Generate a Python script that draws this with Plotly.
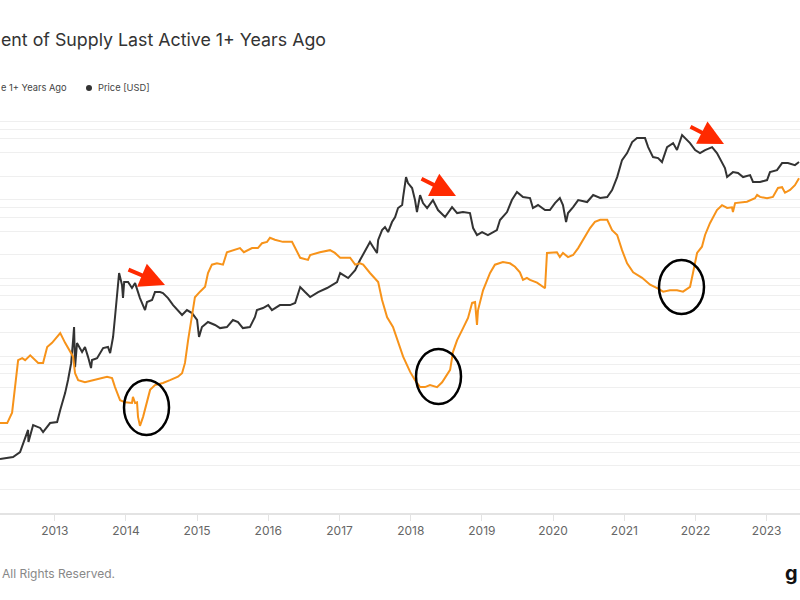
import plotly.graph_objects as go

# ---- data ----
price_dates = ["2012-03-26","2012-06-01","2012-07-07","2012-08-02","2012-08-17","2012-08-19","2012-09-12","2012-10-18","2012-11-02","2012-12-08",
"2013-01-13","2013-01-29","2013-02-23","2013-03-10","2013-03-26","2013-04-05","2013-04-10","2013-04-15","2013-04-25","2013-05-21","2013-06-05","2013-06-21","2013-07-06","2013-07-11","2013-08-06","2013-09-06","2013-10-01","2013-10-12","2013-10-27","2013-11-06","2013-11-17","2013-11-27","2013-12-12","2013-12-17","2013-12-23",
"2014-01-12","2014-02-01","2014-02-17","2014-03-14","2014-04-09","2014-04-19","2014-05-15","2014-05-30","2014-06-25","2014-07-10","2014-08-05","2014-08-31","2014-09-25","2014-10-16","2014-11-10","2014-12-06",
"2015-01-01","2015-01-11","2015-01-26","2015-02-26","2015-04-03","2015-04-29","2015-06-03","2015-07-04","2015-07-30","2015-08-24","2015-09-29","2015-10-25","2015-11-04","2015-12-05",
"2016-01-01","2016-01-20","2016-03-01","2016-04-22","2016-05-18","2016-06-13","2016-07-08","2016-08-03","2016-09-13","2016-10-29","2016-12-19",
"2017-01-04","2017-02-14","2017-03-22","2017-04-16","2017-05-22","2017-06-06","2017-06-22","2017-07-12","2017-07-18","2017-08-07","2017-08-22","2017-09-07","2017-09-27","2017-10-13","2017-10-28","2017-11-18","2017-11-23","2017-12-08","2017-12-18",
"2018-01-08","2018-01-23","2018-02-02","2018-02-18","2018-03-05","2018-03-26","2018-04-25","2018-05-21","2018-06-26","2018-08-01","2018-08-27","2018-09-26","2018-11-01","2018-11-17","2018-12-07",
"2019-01-02","2019-02-01","2019-03-19","2019-04-04","2019-05-10","2019-06-04","2019-06-30","2019-07-31","2019-09-05","2019-09-20","2019-10-16","2019-11-21","2019-12-16",
"2020-01-11","2020-02-05","2020-02-21","2020-03-08","2020-03-18","2020-04-13","2020-05-09","2020-06-24","2020-07-25","2020-08-30","2020-10-05","2020-10-30","2020-11-25","2020-12-20",
"2021-01-15","2021-02-10","2021-03-07","2021-04-17","2021-05-03","2021-05-28","2021-06-23","2021-07-13","2021-08-08","2021-09-08","2021-09-28","2021-10-24","2021-11-08","2021-12-04","2021-12-30",
"2022-01-24","2022-02-19","2022-03-27","2022-04-21","2022-05-17","2022-06-01","2022-06-12","2022-07-12","2022-08-07","2022-09-02","2022-10-08","2022-10-23","2022-11-28",
"2023-01-03","2023-01-18","2023-02-23","2023-03-21","2023-04-20","2023-05-26","2023-06-16"]
price_usd = [4.9,5.2,6.0,9.4,11.5,8.1,13.3,12.2,10.8,14.1,
14.5,20.7,34,50,82,162,237,73,148,114,132,98,71,90,95,128,132,110,177,319,705,1162,816,557,892,
892,748,865,557,391,495,525,664,664,645,557,453,391,338,391,358,
292,177,237,275,252,230,237,292,275,230,237,319,391,415,
453,391,453,453,481,770,664,574,664,748,892,
1162,1003,1268,1703,2423,2891,2495,2092,3069,4115,4495,3880,5204,6026,7860,8590,10860,19550,16400,
14150,9940,6980,11510,9100,7860,9940,7410,6026,8090,6780,6980,6780,4365,3550,
3880,3550,4115,5520,6980,9940,12590,10860,10550,7860,8590,7410,7410,
9100,10550,8590,5204,6780,8090,9940,9380,11510,10550,10860,13340,19550,32200,
39600,54700,61500,61500,47200,35200,34200,30400,47200,53100,43300,67300,61500,53100,43300,
39600,43300,47200,39600,30400,25500,19550,22600,22000,19550,20700,16900,16900,
17900,22600,24000,29500,29500,27800,30400]

supply_dates = ["2012-03-26","2012-05-02","2012-05-27","2012-06-12","2012-06-27","2012-07-18","2012-08-02","2012-08-28","2012-09-12","2012-10-08","2012-11-02","2012-11-23","2012-12-18",
"2013-01-13","2013-01-29","2013-02-23","2013-03-21","2013-04-05","2013-04-15","2013-05-01","2013-06-05","2013-07-17","2013-08-21","2013-09-26","2013-10-22","2013-11-06","2013-12-02","2013-12-28",
"2014-02-01","2014-02-06","2014-02-17","2014-02-27","2014-03-04","2014-03-14","2014-03-30","2014-04-19","2014-05-05","2014-05-30","2014-07-10","2014-08-15","2014-09-25","2014-10-16","2014-10-31","2014-11-16","2014-12-06","2014-12-21",
"2015-01-16","2015-02-11","2015-02-26","2015-03-18","2015-04-13","2015-05-14","2015-06-03","2015-07-04","2015-08-09","2015-08-29","2015-10-10","2015-11-09","2015-11-30","2015-12-26",
"2016-01-10","2016-02-04","2016-03-16","2016-05-02","2016-05-18","2016-06-13","2016-07-23","2016-08-03","2016-09-22","2016-11-13","2016-12-08",
"2017-01-04","2017-02-24","2017-03-22","2017-04-16","2017-05-02","2017-06-06","2017-07-18","2017-08-07","2017-09-02","2017-10-02","2017-10-28","2017-11-23","2017-12-29",
"2018-01-23","2018-02-18","2018-03-15","2018-04-10","2018-05-16","2018-06-11","2018-07-06","2018-07-22","2018-08-06","2018-08-27","2018-09-26","2018-10-22","2018-11-12","2018-11-27","2018-12-07","2018-12-12",
"2019-01-07","2019-02-12","2019-03-09","2019-04-19","2019-05-25","2019-06-20","2019-07-15","2019-07-31","2019-08-20","2019-09-05","2019-10-11","2019-11-10","2019-11-21","2019-12-01",
"2020-01-01","2020-01-21","2020-02-05","2020-02-21","2020-03-18","2020-04-13","2020-05-09","2020-06-13","2020-07-09","2020-08-03","2020-08-30","2020-10-05","2020-10-30","2020-11-25","2020-12-20",
"2021-01-15","2021-02-15","2021-04-02","2021-05-13","2021-06-18","2021-07-19","2021-08-23","2021-09-28","2021-10-29","2021-12-04","2021-12-19",
"2022-01-09","2022-02-03","2022-02-19","2022-03-16","2022-04-21","2022-05-17","2022-06-12","2022-07-07","2022-07-12","2022-07-23","2022-09-22","2022-11-02","2022-11-13","2022-11-28",
"2023-01-03","2023-02-02","2023-02-28","2023-03-21","2023-04-05","2023-05-01","2023-05-26","2023-06-16"]
supply_pct = [33.0,33.0,34.5,38.1,42.1,42.4,42.1,42.8,42.4,41.7,41.7,44.0,44.6,
45.4,46.0,44.6,43.3,42.6,40.2,39.2,38.9,39.2,39.5,39.7,39.5,38.2,36.3,36.0,
35.9,36.8,35.9,36.0,33.9,32.6,33.9,36.3,37.8,38.5,38.8,39.2,39.7,40.2,41.7,45.0,48.3,51.2,
52.0,52.7,54.7,55.9,56.1,55.9,57.7,58.0,58.3,57.7,58.3,58.3,59.0,59.2,
59.8,59.5,59.2,59.2,58.3,56.9,56.6,57.3,57.7,58.0,57.6,
56.9,56.9,55.9,56.1,55.9,54.7,53.4,50.8,48.3,46.9,44.7,42.6,40.4,
39.2,38.2,38.2,38.5,38.2,38.9,40.0,40.7,43.3,45.0,46.7,48.2,50.4,50.5,47.2,49.3,
52.2,54.7,55.9,56.3,56.1,55.6,54.8,53.7,54.0,53.7,53.3,52.7,52.5,57.6,
57.6,57.7,57.0,57.6,57.0,57.3,58.3,59.9,61.2,62.1,62.4,62.4,60.9,60.2,58.0,
56.1,54.8,54.0,53.0,52.5,52.0,52.2,52.2,52.0,52.7,54.7,
57.6,58.5,60.2,61.9,63.8,64.5,64.1,64.2,63.5,64.8,65.0,65.5,66.0,65.7,
65.5,65.7,67.0,67.1,66.3,66.7,67.4,68.4]

year_ticks = ["2013-01-01","2014-01-01","2015-01-01","2016-01-01","2017-01-01","2018-01-01",
              "2019-01-01","2020-01-01","2021-01-01","2022-01-01","2023-01-01"]
year_labels = ["2013","2014","2015","2016","2017","2018","2019","2020","2021","2022","2023"]
price_grid = [k * 10 ** n for n in range(0, 5) for k in (1, 2, 4, 6, 8)] + [100000, 200000]

# ---- layout helpers (pixel -> paper) ----
TOP, BOT, W = 98, 513, 800
def py(p):
    return (BOT - p) / (BOT - TOP)
def px(p):
    return p / W

FONT = "Inter, Roboto, sans-serif"
ORANGE = "#f7931a"
DARK = "#333333"

fig = go.Figure()
fig.add_trace(go.Scatter(x=supply_dates, y=supply_pct, mode="lines", yaxis="y2",
                         line=dict(color=ORANGE, width=2), name="Percent of Supply Last Active 1+ Years Ago"))
fig.add_trace(go.Scatter(x=price_dates, y=price_usd, mode="lines", yaxis="y",
                         line=dict(color=DARK, width=2), name="Price [USD]"))

fig.update_layout(
    width=800, height=600,
    margin=dict(l=0, r=0, t=TOP, b=600 - BOT, pad=0),
    paper_bgcolor="white", plot_bgcolor="white",
    showlegend=False,
    font=dict(family=FONT, color="#555"),
    xaxis=dict(type="date", range=["2012-03-26", "2023-06-21"],
               tickvals=year_ticks, ticktext=year_labels,
               showgrid=False, zeroline=False,
               showline=True, linecolor="#e3e3e3", linewidth=1.5,
               ticks="outside", ticklen=6, tickcolor="#e3e3e3",
               tickfont=dict(size=12, color="#666", family=FONT)),
    yaxis=dict(type="log", range=[0, 5.30103], tickvals=price_grid,
               showticklabels=False, showgrid=True, gridcolor="#efefef", gridwidth=1,
               zeroline=False, showline=False, ticks=""),
    yaxis2=dict(overlaying="y", side="right", range=[20, 80],
                showticklabels=False, showgrid=False, zeroline=False, showline=False),
)

annotations = [
    dict(text="ent of Supply Last Active 1+ Years Ago", x=px(-1), y=py(39), xanchor="left", yanchor="middle",
         font=dict(size=17.8, color="#333", family=FONT)),
    dict(text="e 1+ Years Ago", x=px(-1), y=py(88), xanchor="left", yanchor="middle",
         font=dict(size=9.3, color="#444", family=FONT)),
    dict(text="Price [USD]", x=px(96), y=py(88), xanchor="left", yanchor="middle",
         font=dict(size=9.3, color="#444", family=FONT)),
    dict(text="All Rights Reserved.", x=px(0), y=py(573), xanchor="left", yanchor="middle",
         font=dict(size=12, color="#888", family=FONT)),
    dict(text="<b>g</b>", x=px(800), y=py(573), xanchor="right", yanchor="middle",
         font=dict(size=20, color="#111", family=FONT)),
]
for a in annotations:
    a.update(xref="paper", yref="paper", showarrow=False)

# red arrows (tip position, tail offset in px)
for tip, tail in [((165, 285), (127, 269)), ((456, 196), (420, 178)), ((724, 144), (689, 126))]:
    annotations.append(dict(x=px(tip[0]), y=py(tip[1]), xref="paper", yref="paper",
                            ax=tail[0] - tip[0], ay=tail[1] - tip[1], text="",
                            showarrow=True, arrowhead=2, arrowsize=1.25, arrowwidth=4,
                            arrowcolor="#ff2a00", standoff=0))
fig.update_layout(annotations=annotations)

shapes = []
for (x0, x1, y0, y1) in [(124, 169, 380, 435), (416, 461, 349, 404), (659, 704, 260, 314)]:
    shapes.append(dict(type="circle", xref="paper", yref="paper",
                       x0=px(x0), x1=px(x1), y0=py(y1), y1=py(y0),
                       line=dict(color="black", width=2.5)))
shapes.append(dict(type="circle", xref="paper", yref="paper",
                   x0=px(86), x1=px(92), y0=py(91), y1=py(85),
                   fillcolor=DARK, line=dict(color=DARK, width=0)))
fig.update_layout(shapes=shapes)

fig.write_html("out.html")
